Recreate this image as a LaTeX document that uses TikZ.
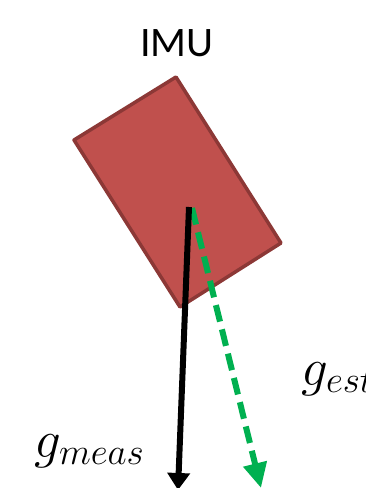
\RequirePackage{fix-cm}
\documentclass[tikz,border=0pt]{standalone}
\usepackage{fontspec}
\newfontfamily\labelfont{Carlito}
\usetikzlibrary{arrows.meta}
\definecolor{imufill}{HTML}{C0504D}
\definecolor{imuedge}{HTML}{8C3836}
\definecolor{estgreen}{HTML}{00B050}
\tikzset{
  imubox/.style={fill=imufill, draw=imuedge, line width=3.5pt, line join=round},
  measarrow/.style={draw=black, line width=6pt, -{Triangle[length=17pt,width=22pt]}},
  estarrow/.style={draw=estgreen, line width=6pt, dash pattern=on 17pt off 8pt, -{Triangle[length=25pt,width=23pt]}},
  title/.style={font=\labelfont\fontsize{42}{50}\selectfont, inner sep=0pt, anchor=base},
  glabel/.style={font=\fontsize{53}{63}\selectfont, inner sep=0pt, anchor=base west}
}
\begin{document}
\begin{tikzpicture}[x=1pt,y=-1pt]
  \useasboundingbox (0,0) rectangle (365,488);
  \clip (0,0) rectangle (365,488);
  \coordinate (a) at (74,140);
  \coordinate (b) at (176,77);
  \coordinate (c) at (281,243);
  \coordinate (d) at (180,307);
  \path[imubox] (a) -- (b) -- (c) -- (d) -- cycle;
  \node[title] (imu) at (177,56) {IMU};
  \coordinate (o2) at (192,208);
  \coordinate (e) at (261,488);
  \coordinate (o1) at (189,207);
  \coordinate (m) at (178,490);
  \draw[estarrow] (o2) -- (e);
  \draw[measarrow] (o1) -- (m);
  \node[glabel] (gm) at (34,457) {$g_{meas}$};
  \node[glabel] (ge) at (301,385) {$g_{est}$};
\end{tikzpicture}
\end{document}
